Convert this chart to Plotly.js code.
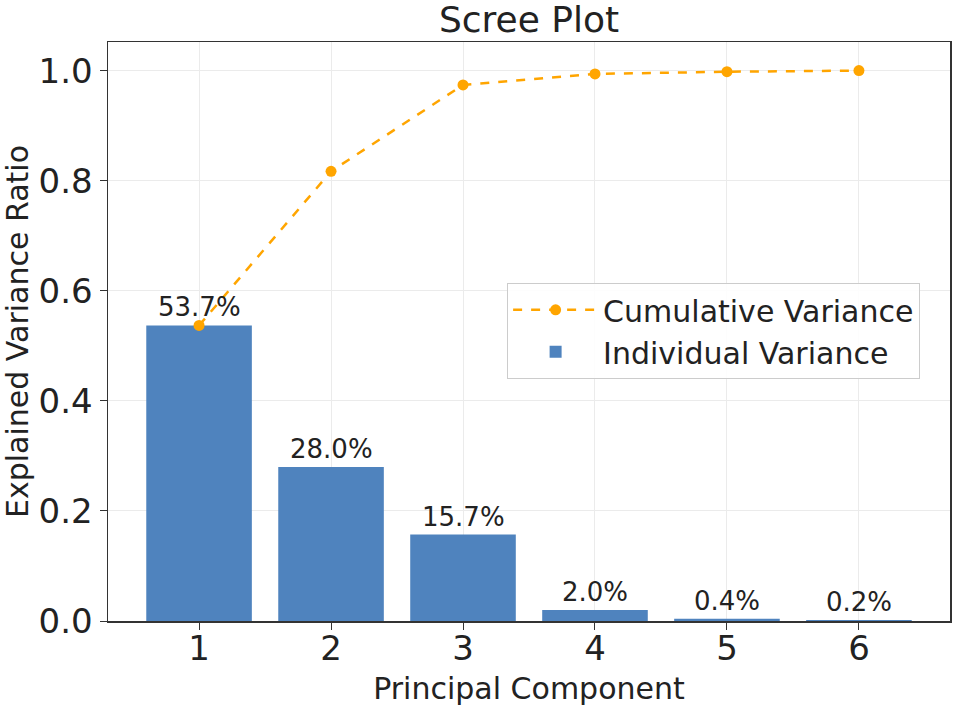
<!DOCTYPE html>
<html>
<head>
<meta charset="utf-8">
<script src="https://cdn.plot.ly/plotly-3.0.1.min.js"></script>
<style>html,body{margin:0;padding:0;background:#fff;}#chart{width:955px;height:707px;}</style>
</head>
<body>
<div id="chart"></div>
<script>
const components = [1, 2, 3, 4, 5, 6];
const individualVariance = [0.537, 0.280, 0.157, 0.020, 0.004, 0.002];
const cumulativeVariance = [0.537, 0.817, 0.974, 0.994, 0.998, 1.000];
const barLabels = ["53.7%", "28.0%", "15.7%", "2.0%", "0.4%", "0.2%"];
const yTicks = [0.0, 0.2, 0.4, 0.6, 0.8, 1.0];
const yTickText = ["0.0", "0.2", "0.4", "0.6", "0.8", "1.0"];

const FONT = "DejaVu Sans, Liberation Sans, sans-serif";

const barTrace = {
  type: "bar",
  x: components,
  y: individualVariance,
  width: 0.8,
  name: "Individual Variance",
  marker: {color: "#4f83be", line: {width: 0}},
  legendrank: 2,
  hoverinfo: "skip"
};

const lineTrace = {
  type: "scatter",
  mode: "lines+markers",
  x: components,
  y: cumulativeVariance,
  name: "Cumulative Variance",
  line: {color: "#ffa500", width: 2.5, dash: "dash"},
  marker: {color: "#ffa500", size: 11},
  legendrank: 1,
  cliponaxis: false,
  hoverinfo: "skip"
};

const annotations = components.map((c, i) => ({
  x: c, y: individualVariance[i], xref: "x", yref: "y",
  text: barLabels[i], showarrow: false,
  yanchor: "bottom", yshift: 1,
  font: {family: FONT, size: 26, color: "#222"}
}));

const layout = {
  width: 955, height: 707,
  paper_bgcolor: "#fff", plot_bgcolor: "#fff",
  margin: {l: 108, r: 5, t: 42, b: 86},
  font: {family: FONT, color: "#222"},
  title: {text: "Scree Plot", font: {family: FONT, size: 36, color: "#222"},
          x: 0.554, xanchor: "center", y: 0.972, yanchor: "middle"},
  xaxis: {
    range: [0.31, 6.69], tickvals: components, ticktext: components.map(String),
    tickfont: {size: 34, color: "#222"}, ticks: "outside", ticklen: 7, tickcolor: "#333",
    ticklabelstandoff: -10,
    showgrid: true, gridcolor: "#ebebeb", gridwidth: 1,
    showline: true, linecolor: "#333", linewidth: 1.5, mirror: true, zeroline: false,
    title: {text: "Principal Component", font: {size: 30, color: "#222"}, standoff: 10}
  },
  yaxis: {
    range: [0, 1.052], tickvals: yTicks, ticktext: yTickText,
    tickfont: {size: 34, color: "#222"}, ticks: "outside", ticklen: 7, tickcolor: "#333",
    showgrid: true, gridcolor: "#ebebeb", gridwidth: 1,
    showline: true, linecolor: "#333", linewidth: 1.5, mirror: true, zeroline: false,
    title: {text: "Explained Variance Ratio", font: {size: 30, color: "#222"}, standoff: 10}
  },
  legend: {
    x: 0.474, y: 0.584, xanchor: "left", yanchor: "top",
    bgcolor: "rgba(255,255,255,0.9)", bordercolor: "#cccccc", borderwidth: 1,
    itemwidth: 85,
    font: {family: FONT, size: 30, color: "#222"}
  },
  annotations: annotations,
  showlegend: true,
  bargap: 0.2
};

Plotly.newPlot("chart", [barTrace, lineTrace], layout, {displayModeBar: false, staticPlot: true});
</script>
</body>
</html>
